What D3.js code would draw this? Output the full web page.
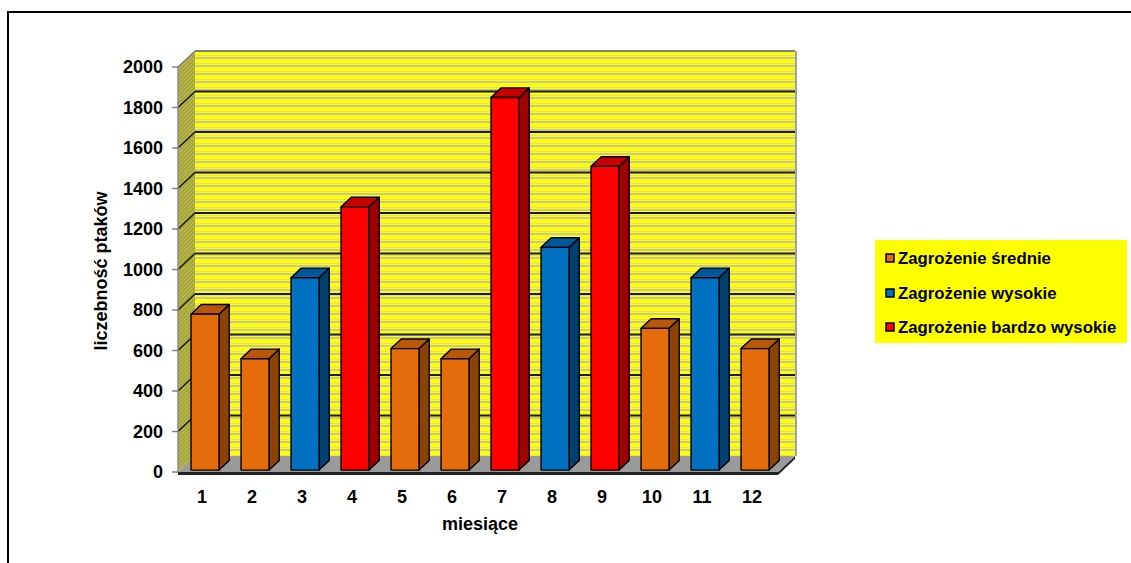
<!DOCTYPE html>
<html>
<head>
<meta charset="utf-8">
<script src="https://cdn.jsdelivr.net/npm/d3@7"></script>
<style>
  html, body { margin: 0; padding: 0; background: #fff; }
  svg { display: block; font-family: "Liberation Sans", Arial, sans-serif; }
</style>
</head>
<body>
<svg id="chart" width="1131" height="563"></svg>
<script>
// Monthly bird counts with threat level per month
const months = ["1", "2", "3", "4", "5", "6", "7", "8", "9", "10", "11", "12"];
const counts = [770, 550, 950, 1300, 600, 550, 1840, 1100, 1500, 700, 950, 600];
const levels = [0, 0, 1, 2, 0, 0, 2, 1, 2, 0, 1, 0];
const seriesNames = ["Zagrożenie średnie", "Zagrożenie wysokie", "Zagrożenie bardzo wysokie"];
const yTicks = [0, 200, 400, 600, 800, 1000, 1200, 1400, 1600, 1800, 2000];

const faceColors = [
  { front: "#E46C0A", top: "#B8560A", side: "#8C4306" },
  { front: "#0070C0", top: "#005799", side: "#004070" },
  { front: "#FF0000", top: "#C80000", side: "#A00000" }
];

const svg = d3.select("#chart");

// Front plane of the 3D box and depth offset
const x = d3.scaleBand().domain(months).range([178, 778]);
const y = d3.scaleLinear().domain([0, 2000]).range([472, 67]);
const depth = { dx: 17, dy: -16 };
const barFront = 0.12, barBack = 0.72, barWidth = 28;

const defs = svg.append("defs");
// Striped back wall
const stripe = defs.append("pattern").attr("id", "wallStripes")
  .attr("patternUnits", "userSpaceOnUse").attr("width", 8).attr("height", 8)
  .attr("y", 51);
stripe.append("rect").attr("width", 8).attr("height", 8).attr("fill", "#FFFF00");
stripe.append("rect").attr("y", 4).attr("width", 8).attr("height", 1).attr("fill", "#E2E070");
stripe.append("rect").attr("y", 6).attr("width", 8).attr("height", 2).attr("fill", "#C4C4B0");
// Hatched side wall
const hatch = defs.append("pattern").attr("id", "sideHatch")
  .attr("patternUnits", "userSpaceOnUse").attr("width", 4).attr("height", 4);
hatch.append("rect").attr("width", 4).attr("height", 4).attr("fill", "#ACAC00");
hatch.append("path").attr("d", "M0,4 L4,0 M-1,1 L1,-1 M3,5 L5,3")
  .attr("stroke", "#B0B0A4").attr("stroke-width", 1.2);

const x0 = x.range()[0], x1 = x.range()[1];
const y0 = y(0), yTop = y(2000);

// Outer frame
svg.append("path").attr("d", `M8,563 L8,12 L1131,12`)
  .attr("fill", "none").attr("stroke", "#000").attr("stroke-width", 2);

// Back wall
svg.append("rect")
  .attr("x", x0 + depth.dx).attr("y", yTop + depth.dy)
  .attr("width", x1 - x0).attr("height", y0 - yTop)
  .attr("fill", "url(#wallStripes)");
// Side wall
svg.append("path")
  .attr("d", `M${x0},${y0} L${x0},${yTop} L${x0 + depth.dx},${yTop + depth.dy} L${x0 + depth.dx},${y0 + depth.dy} Z`)
  .attr("fill", "url(#sideHatch)");

// Gridlines on back and side walls
const grid = svg.append("g");
yTicks.filter(v => v > 0).forEach(v => {
  const yy = y(v);
  grid.append("line")
    .attr("x1", x0 + depth.dx).attr("x2", x1 + depth.dx)
    .attr("y1", yy + depth.dy).attr("y2", yy + depth.dy)
    .attr("stroke", v === 2000 ? "#808080" : "#1a1a00").attr("stroke-width", 2);
  grid.append("line")
    .attr("x1", x0).attr("x2", x0 + depth.dx)
    .attr("y1", yy).attr("y2", yy + depth.dy)
    .attr("stroke", v === 2000 ? "#808080" : "#1a1a00").attr("stroke-width", 1.6);
});
// Right edge of back wall
svg.append("line")
  .attr("x1", x1 + depth.dx + 1).attr("x2", x1 + depth.dx + 1)
  .attr("y1", yTop + depth.dy).attr("y2", y0 + depth.dy)
  .attr("stroke", "#A0A0A0").attr("stroke-width", 2);

// Floor with a thin front slab
svg.append("path")
  .attr("d", `M${x0},${y0 + 3} L${x1},${y0 + 3} L${x1 + depth.dx},${y0 + depth.dy + 3} L${x1 + depth.dx},${y0 + depth.dy} L${x1},${y0} L${x0},${y0} Z`)
  .attr("fill", "#222");
svg.append("path")
  .attr("d", `M${x0},${y0} L${x1},${y0} L${x1 + depth.dx},${y0 + depth.dy} L${x0 + depth.dx},${y0 + depth.dy} Z`)
  .attr("fill", "#9A9A9A");

// Left axis line and ticks
svg.append("line").attr("x1", x0).attr("x2", x0).attr("y1", y0).attr("y2", yTop)
  .attr("stroke", "#8C8C8C").attr("stroke-width", 1.5);
const yAxis = svg.append("g");
yTicks.forEach(v => {
  yAxis.append("line").attr("x1", x0 - 6).attr("x2", x0).attr("y1", y(v)).attr("y2", y(v))
    .attr("stroke", "#808080").attr("stroke-width", 1.5);
  yAxis.append("text").attr("x", 163).attr("y", y(v)).attr("dy", "0.36em")
    .attr("text-anchor", "end").attr("font-size", 18).attr("font-weight", "bold")
    .text(v);
});

// 3D columns
const bars = svg.append("g");
months.forEach((m, i) => {
  const v = counts[i];
  const c = faceColors[levels[i]];
  const cx = x(m) + x.bandwidth() / 2 + barFront * depth.dx;
  const shiftY = barFront * depth.dy;
  const left = cx - barWidth / 2, right = cx + barWidth / 2;
  const bottom = y(0) + shiftY, top = y(v) + shiftY;
  const ddx = (barBack - barFront) * depth.dx, ddy = (barBack - barFront) * depth.dy;
  const g = bars.append("g").attr("stroke", "#000").attr("stroke-width", 1.4).attr("stroke-linejoin", "round");
  g.append("path")
    .attr("d", `M${right},${bottom} L${right},${top} L${right + ddx},${top + ddy} L${right + ddx},${bottom + ddy} Z`)
    .attr("fill", c.side);
  g.append("path")
    .attr("d", `M${left},${top} L${right},${top} L${right + ddx},${top + ddy} L${left + ddx},${top + ddy} Z`)
    .attr("fill", c.top);
  g.append("rect").attr("x", left).attr("y", top).attr("width", barWidth).attr("height", bottom - top)
    .attr("fill", c.front);
});

// Category labels
const xAxis = svg.append("g");
months.forEach(m => {
  xAxis.append("text").attr("x", x(m) + x.bandwidth() / 2 - 1).attr("y", 503)
    .attr("text-anchor", "middle").attr("font-size", 18).attr("font-weight", "bold").text(m);
});

// Axis titles
svg.append("text").attr("x", 480).attr("y", 530).attr("text-anchor", "middle")
  .attr("font-size", 18).attr("font-weight", "bold").text("miesiące");
svg.append("text").attr("transform", "translate(107,271) rotate(-90)").attr("text-anchor", "middle")
  .attr("font-size", 18).attr("font-weight", "bold").text("liczebność ptaków");

// Legend
const legend = svg.append("g");
legend.append("rect").attr("x", 875).attr("y", 240).attr("width", 252).attr("height", 103).attr("fill", "#FFFF00");
const legendRows = [258, 293, 327];
seriesNames.forEach((name, i) => {
  legend.append("rect").attr("x", 886).attr("y", legendRows[i] - 4).attr("width", 8).attr("height", 8)
    .attr("fill", faceColors[i].front).attr("stroke", "#000").attr("stroke-width", 1.5);
  legend.append("text").attr("x", 898).attr("y", legendRows[i]).attr("dy", "0.36em")
    .attr("font-size", 16.8).attr("font-weight", "bold").text(name);
});
</script>
</body>
</html>
